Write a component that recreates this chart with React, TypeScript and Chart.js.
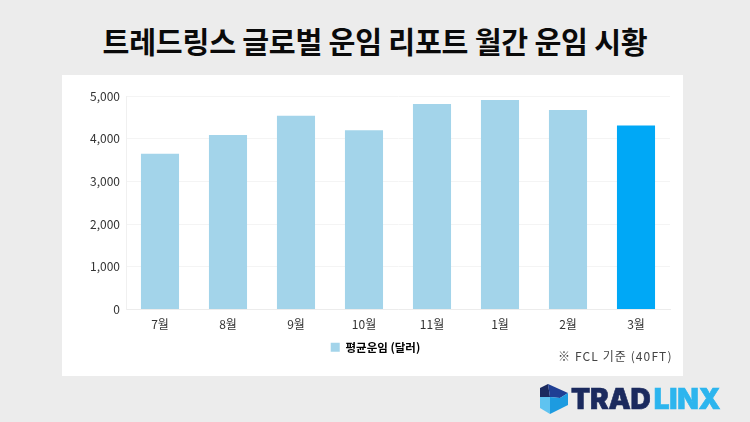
import React, { useEffect, useRef } from 'react'
import { Chart, registerables } from "chart.js";

Chart.register(...registerables);

const months = ["7월", "8월", "9월", "10월", "11월", "1월", "2월", "3월"];
const avgFreight = [3650, 4085, 4540, 4200, 4810, 4905, 4670, 4310];
const barColors = ["#a3d4ea", "#a3d4ea", "#a3d4ea", "#a3d4ea", "#a3d4ea", "#a3d4ea", "#a3d4ea", "#00a8f6"];
const seriesName = "평균운임 (달러)";
const chartTitle = "트레드링스 글로벌 운임 리포트 월간 운임 시황";
const note = "※ FCL 기준 (40FT)";

const KR_FONT = '"Noto Sans CJK KR", "Noto Sans", sans-serif';

const App: React.FC = () => {
    const chartRef = useRef<HTMLCanvasElement | null>(null);

    useEffect(() => {
        const ctx = chartRef.current?.getContext("2d");
        if (!ctx) return;

        const chart = new Chart(ctx, {
            type: "bar",
            data: {
                labels: months,
                datasets: [
                    {
                        label: seriesName,
                        data: avgFreight,
                        backgroundColor: barColors,
                        barPercentage: 0.56,
                        categoryPercentage: 1,
                    },
                ],
            },
            options: {
                animation: false,
                responsive: false,
                devicePixelRatio: 1,
                // left padding + narrower y axis keeps the legend centred where the original has it
                layout: { padding: { left: 19, right: 13, top: 21, bottom: 13 } },
                plugins: {
                    title: { display: false },
                    tooltip: { enabled: false },
                    legend: {
                        position: "bottom",
                        labels: {
                            boxWidth: 9,
                            boxHeight: 9,
                            padding: 8,
                            color: "#333",
                            font: { family: KR_FONT, size: 11.5, weight: "bold" },
                            generateLabels: () => [
                                { text: seriesName, fillStyle: "#a3d4ea", strokeStyle: "#a3d4ea", lineWidth: 0, datasetIndex: 0 },
                            ],
                        },
                    },
                },
                scales: {
                    x: {
                        afterFit: (axis) => { axis.height = 24; },
                        grid: { display: false },
                        border: { color: "#ececec", width: 1 },
                        ticks: { color: "#333", padding: 0, font: { family: KR_FONT, size: 12 } },
                    },
                    y: {
                        min: 0,
                        max: 5000,
                        afterFit: (axis) => { axis.width = 45; },
                        grid: { color: "#f4f4f4", drawTicks: false },
                        border: { color: "#f0f0f0", width: 1 },
                        ticks: {
                            stepSize: 1000,
                            color: "#333",
                            padding: 6,
                            font: { family: KR_FONT, size: 12 },
                            callback: (value) => Number(value).toLocaleString("en-US"),
                        },
                    },
                },
            },
        });

        return () => {
            chart.destroy();
        };
    }, []);

    return (
        <div style={{ position: "fixed", left: 0, top: 0, width: 750, height: 422, background: "#ececec", overflow: "hidden" }}>
            <div style={{
                position: "absolute", left: 0, top: 18, width: 750, textAlign: "center",
                fontFamily: KR_FONT, fontWeight: 700, fontSize: 29.2, lineHeight: "44px", color: "#0a0a0a",
                letterSpacing: -0.2, whiteSpace: "nowrap",
            }}>{chartTitle}</div>

            <div style={{ position: "absolute", left: 62, top: 75, width: 621, height: 301, background: "#fff" }}>
                <canvas ref={chartRef} width={621} height={301} style={{ display: "block" }}></canvas>
            </div>

            <div style={{
                position: "absolute", left: 558, top: 347, fontFamily: KR_FONT, fontSize: 12,
                lineHeight: "18px", color: "#444", letterSpacing: 1.1, whiteSpace: "nowrap",
            }}>{note}</div>

            <svg style={{ position: "absolute", left: 539, top: 383 }} width={30} height={32} viewBox="0 0 30 32">
                <polygon points="9,1 1,5 1,14 11,14" fill="#1b2a5e" />
                <polygon points="9,1 29,10 21,15 11,14" fill="#1f3f94" />
                <polygon points="1,14 11,14 11,31 1,25" fill="#5fc3f0" />
                <polygon points="11,14 21,15 29,10 29,22 11,31" fill="#1d9be0" />
            </svg>
            <div style={{
                position: "absolute", left: 571, top: 383, fontFamily: "Inter, sans-serif", fontWeight: 900,
                fontSize: 28, lineHeight: "32px", letterSpacing: -0.2, whiteSpace: "nowrap",
                WebkitTextStroke: "0.6px currentColor",
            }}>
                <span style={{ color: "#1b2a5e" }}>TRAD</span>
                <span style={{ color: "#2cb5ee", marginLeft: 3 }}>LINX</span>
            </div>
        </div>
    );
}

export default App
